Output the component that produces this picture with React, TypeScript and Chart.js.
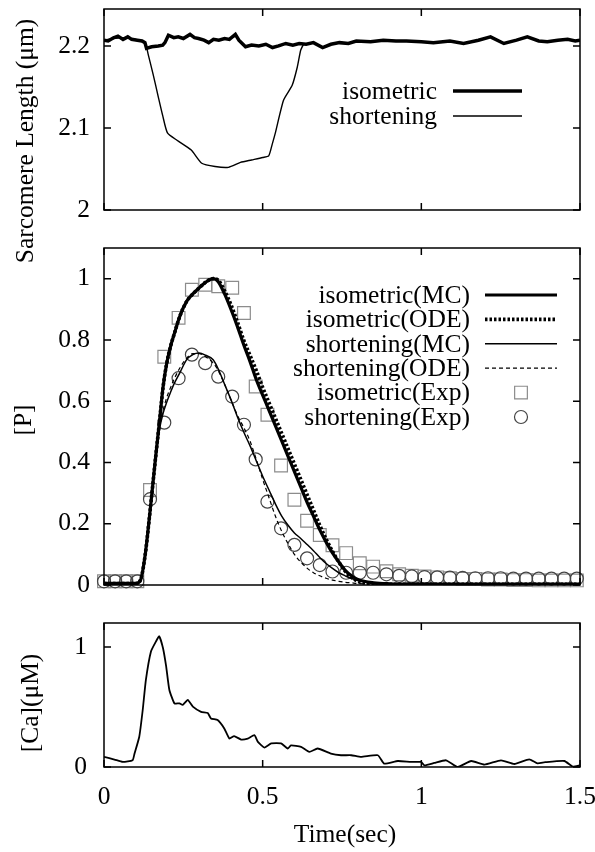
import React, { useEffect, useRef } from "react";
import { Chart, registerables } from "chart.js";
Chart.register(...registerables);

const FONT = "'Liberation Serif', 'Times New Roman', serif";
const FS = 25.5;
const W = 595;
const H = 852;
const PLOT_LEFT = 104;
const PLOT_RIGHT = 580;

// ---------- Panel A: sarcomere length ----------
const isoSLT = [0, 0.013, 0.03, 0.044, 0.06, 0.075, 0.087, 0.105, 0.12, 0.129, 0.134, 0.15, 0.171, 0.185, 0.192, 0.203, 0.22, 0.234, 0.25, 0.271, 0.285, 0.298, 0.315, 0.33, 0.345, 0.362, 0.38, 0.395, 0.414, 0.425, 0.446, 0.465, 0.488, 0.51, 0.531, 0.55, 0.573, 0.595, 0.615, 0.637, 0.66, 0.689, 0.715, 0.742, 0.77, 0.795, 0.84, 0.88, 0.92, 0.953, 1.0, 1.038, 1.09, 1.133, 1.18, 1.218, 1.26, 1.3, 1.334, 1.37, 1.397, 1.43, 1.461, 1.485, 1.5];
const isoSL = [2.207, 2.206, 2.21, 2.212, 2.208, 2.211, 2.208, 2.207, 2.206, 2.204, 2.197, 2.199, 2.2, 2.201, 2.204, 2.213, 2.21, 2.211, 2.209, 2.214, 2.21, 2.209, 2.207, 2.204, 2.208, 2.207, 2.209, 2.208, 2.214, 2.207, 2.199, 2.201, 2.2, 2.202, 2.198, 2.2, 2.203, 2.201, 2.203, 2.202, 2.204, 2.198, 2.202, 2.204, 2.203, 2.206, 2.205, 2.207, 2.206, 2.206, 2.205, 2.204, 2.206, 2.203, 2.207, 2.211, 2.203, 2.207, 2.211, 2.206, 2.205, 2.207, 2.208, 2.206, 2.207];
const shortSLT = [0, 0.05, 0.1, 0.13, 0.139, 0.155, 0.171, 0.185, 0.2, 0.23, 0.275, 0.308, 0.35, 0.392, 0.43, 0.465, 0.5, 0.519, 0.53, 0.54, 0.566, 0.593, 0.609, 0.62, 0.63];
const shortSL = [2.207, 2.21, 2.208, 2.203, 2.19, 2.165, 2.138, 2.115, 2.094, 2.085, 2.073, 2.057, 2.053, 2.052, 2.058, 2.061, 2.064, 2.066, 2.08, 2.094, 2.134, 2.152, 2.174, 2.195, 2.203];

// ---------- Panel B: [P] ----------
const tModel = [0, 0.05, 0.1, 0.115, 0.13, 0.142, 0.153, 0.164, 0.175, 0.186, 0.197, 0.21, 0.22, 0.24, 0.26, 0.28, 0.3, 0.32, 0.344, 0.36, 0.38, 0.4, 0.42, 0.44, 0.46, 0.48, 0.5, 0.52, 0.54, 0.56, 0.58, 0.6, 0.62, 0.64, 0.66, 0.68, 0.7, 0.72, 0.74, 0.76, 0.78, 0.8, 0.85, 0.9, 1.0, 1.2, 1.5];
const isoMC = [0.005, 0.005, 0.005, 0.016, 0.1, 0.21, 0.32, 0.43, 0.535, 0.645, 0.72, 0.78, 0.815, 0.88, 0.925, 0.95, 0.97, 0.988, 1.0, 0.99, 0.95, 0.9, 0.845, 0.785, 0.73, 0.67, 0.62, 0.57, 0.52, 0.47, 0.42, 0.37, 0.32, 0.27, 0.225, 0.18, 0.14, 0.105, 0.075, 0.048, 0.03, 0.018, 0.007, 0.004, 0.003, 0.003, 0.003];
const isoODE = [0.005, 0.005, 0.005, 0.016, 0.1, 0.21, 0.32, 0.43, 0.535, 0.645, 0.72, 0.78, 0.815, 0.88, 0.925, 0.95, 0.97, 0.988, 1.0, 0.995, 0.96, 0.915, 0.86, 0.8, 0.75, 0.7, 0.645, 0.595, 0.545, 0.495, 0.445, 0.395, 0.345, 0.295, 0.245, 0.195, 0.15, 0.11, 0.075, 0.045, 0.025, 0.012, 0.004, 0.002, 0.002, 0.002, 0.002];
const shortMC = [0.005, 0.005, 0.005, 0.016, 0.1, 0.21, 0.32, 0.43, 0.51, 0.56, 0.595, 0.63, 0.655, 0.695, 0.735, 0.752, 0.757, 0.75, 0.735, 0.705, 0.655, 0.605, 0.55, 0.5, 0.455, 0.405, 0.355, 0.31, 0.265, 0.225, 0.195, 0.17, 0.152, 0.132, 0.112, 0.09, 0.07, 0.054, 0.04, 0.03, 0.021, 0.015, 0.007, 0.004, 0.003, 0.003, 0.003];
const shortODE = [0.005, 0.005, 0.005, 0.016, 0.1, 0.21, 0.32, 0.43, 0.52, 0.57, 0.61, 0.645, 0.67, 0.71, 0.74, 0.755, 0.755, 0.745, 0.725, 0.7, 0.655, 0.605, 0.555, 0.515, 0.47, 0.41, 0.345, 0.285, 0.225, 0.175, 0.135, 0.1, 0.075, 0.055, 0.04, 0.03, 0.022, 0.016, 0.012, 0.009, 0.007, 0.005, 0.003, 0.002, 0.002, 0.002, 0.002];
const expT = [0, 0.035, 0.07, 0.105, 0.145, 0.19, 0.235, 0.277, 0.319, 0.36, 0.404, 0.441, 0.478, 0.515, 0.558, 0.6, 0.64, 0.68, 0.72, 0.763, 0.806, 0.848, 0.89, 0.93, 0.97, 1.01, 1.05, 1.09, 1.13, 1.17, 1.21, 1.25, 1.29, 1.33, 1.37, 1.41, 1.45, 1.49];
const isoExp = [0.012, 0.012, 0.012, 0.012, 0.31, 0.745, 0.872, 0.964, 0.98, 0.975, 0.97, 0.888, 0.648, 0.556, 0.39, 0.278, 0.21, 0.163, 0.13, 0.104, 0.071, 0.06, 0.045, 0.035, 0.03, 0.028, 0.025, 0.022, 0.02, 0.02, 0.018, 0.018, 0.016, 0.016, 0.015, 0.015, 0.015, 0.015];
const shortExp = [0.012, 0.012, 0.012, 0.012, 0.28, 0.53, 0.675, 0.752, 0.724, 0.68, 0.615, 0.523, 0.41, 0.272, 0.185, 0.131, 0.087, 0.065, 0.044, 0.04, 0.04, 0.04, 0.035, 0.03, 0.028, 0.026, 0.025, 0.024, 0.023, 0.022, 0.022, 0.022, 0.021, 0.021, 0.021, 0.021, 0.021, 0.021];

// ---------- Panel C: [Ca] ----------
const caT = [0, 0.033, 0.059, 0.09, 0.096, 0.111, 0.122, 0.132, 0.148, 0.164, 0.174, 0.186, 0.196, 0.206, 0.222, 0.238, 0.248, 0.264, 0.28, 0.306, 0.327, 0.337, 0.358, 0.379, 0.395, 0.41, 0.432, 0.453, 0.474, 0.485, 0.506, 0.527, 0.558, 0.579, 0.589, 0.621, 0.647, 0.673, 0.715, 0.747, 0.779, 0.81, 0.863, 0.883, 0.926, 0.968, 0.999, 1.01, 1.041, 1.078, 1.115, 1.157, 1.199, 1.251, 1.293, 1.34, 1.366, 1.39, 1.451, 1.477, 1.5];
const caV = [0.084, 0.062, 0.042, 0.056, 0.11, 0.25, 0.475, 0.726, 0.963, 1.047, 1.089, 0.99, 0.837, 0.642, 0.53, 0.53, 0.517, 0.559, 0.503, 0.46, 0.45, 0.405, 0.391, 0.321, 0.237, 0.257, 0.229, 0.237, 0.265, 0.209, 0.162, 0.196, 0.196, 0.154, 0.18, 0.168, 0.126, 0.154, 0.112, 0.098, 0.098, 0.084, 0.098, 0.028, 0.05, 0.042, 0.042, 0.014, 0.034, 0.056, 0.0, 0.05, 0.02, 0.056, 0.025, 0.064, 0.03, 0.04, 0.05, 0.003, 0.014];

// ---------- labels ----------
const slLegend = ["isometric", "shortening"];
const pLegend = ["isometric(MC)", "isometric(ODE)", "shortening(MC)", "shortening(ODE)", "isometric(Exp)", "shortening(Exp)"];
const caLegend = ["[Ca]"];
const slTitle = "Sarcomere Length (\u03bcm)";
const pTitle = "[P]";
const caTitle = "[Ca](\u03bcM)";
const xTitle = "Time(sec)";

const pts = (xs: number[], ys: number[]) => xs.map((x, i) => ({ x, y: ys[i] }));
const fmt = (v: number) => String(Math.round(v * 10) / 10);

const framePlugin = {
  id: "frame",
  afterDatasetsDraw(chart: any) {
    const { ctx, chartArea: a, scales } = chart;
    ctx.save();
    ctx.strokeStyle = "#000";
    ctx.lineWidth = 1.5;
    ctx.strokeRect(a.left, a.top, a.right - a.left, a.bottom - a.top);
    const len = 7;
    ctx.beginPath();
    for (const t of scales.x.ticks) {
      const px = scales.x.getPixelForValue(t.value);
      ctx.moveTo(px, a.bottom);
      ctx.lineTo(px, a.bottom - len);
      ctx.moveTo(px, a.top);
      ctx.lineTo(px, a.top + len);
    }
    for (const t of scales.y.ticks) {
      const py = scales.y.getPixelForValue(t.value);
      ctx.moveTo(a.left, py);
      ctx.lineTo(a.left + len, py);
      ctx.moveTo(a.right, py);
      ctx.lineTo(a.right - len, py);
    }
    ctx.stroke();
    ctx.restore();
  },
};

const legendPlugin = {
  id: "sideLegend",
  afterDraw(chart: any, _args: any, opts: any) {
    if (!opts || !opts.show) return;
    const ctx = chart.ctx;
    ctx.save();
    ctx.font = `${opts.fontSize}px ${FONT}`;
    ctx.textAlign = "right";
    ctx.textBaseline = "middle";
    chart.data.datasets.forEach((ds: any, i: number) => {
      const y = opts.y0 + i * opts.rowH;
      ctx.fillStyle = "#000";
      ctx.fillText(ds.label, opts.textRight, y + 1);
      if (ds.showLine === false) {
        const cx = (opts.s0 + opts.s1) / 2;
        ctx.strokeStyle = ds.pointBorderColor || ds.borderColor;
        ctx.lineWidth = ds.pointBorderWidth || 1;
        ctx.setLineDash([]);
        ctx.beginPath();
        if (ds.pointStyle === "rect") {
          const s = ds.pointRadius * Math.SQRT1_2;
          ctx.rect(cx - s, y - s, 2 * s, 2 * s);
        } else {
          ctx.arc(cx, y, ds.pointRadius, 0, Math.PI * 2);
        }
        ctx.stroke();
      } else {
        ctx.strokeStyle = ds.borderColor;
        ctx.lineWidth = ds.borderWidth;
        ctx.setLineDash(ds.borderDash || []);
        ctx.beginPath();
        ctx.moveTo(opts.s0, y);
        ctx.lineTo(opts.s1, y);
        ctx.stroke();
      }
    });
    ctx.restore();
  },
};

const textPlugin = {
  id: "texts",
  afterDraw(chart: any, _args: any, opts: any) {
    if (!opts || !opts.items) return;
    const ctx = chart.ctx;
    ctx.save();
    ctx.fillStyle = "#000";
    ctx.textAlign = "center";
    ctx.textBaseline = "middle";
    for (const it of opts.items) {
      ctx.save();
      ctx.font = `${it.size}px ${FONT}`;
      ctx.translate(it.x, it.y);
      if (it.rotate) ctx.rotate(it.rotate);
      ctx.fillText(it.text, 0, 0);
      ctx.restore();
    }
    ctx.restore();
  },
};

function yScale(min: number, max: number, step: number, pad: number) {
  return {
    type: "linear",
    min,
    max,
    afterFit: (s: any) => {
      s.width = PLOT_LEFT;
      s.paddingTop = 0;
      s.paddingBottom = 0;
    },
    grid: { display: false, drawTicks: false },
    border: { display: false },
    ticks: {
      stepSize: step,
      includeBounds: false,
      autoSkip: false,
      color: "#000",
      padding: pad,
      font: { family: FONT, size: FS },
      callback: (v: number) => fmt(v),
    },
  };
}

function xScale(showLabels: boolean, height: number) {
  return {
    type: "linear",
    min: 0,
    max: 1.5,
    afterFit: (s: any) => {
      s.height = height;
      s.paddingLeft = 0;
      s.paddingRight = 0;
    },
    grid: { display: false, drawTicks: false },
    border: { display: false },
    ticks: {
      display: showLabels,
      stepSize: 0.5,
      includeBounds: false,
      autoSkip: false,
      maxRotation: 0,
      color: "#000",
      padding: 15,
      font: { family: FONT, size: FS },
      callback: (v: number) => fmt(v),
    },
  };
}

function baseOptions(top: number, bottom: number, xh: number, showX: boolean, ymin: number, ymax: number, ystep: number, ypad: number, plugins: any) {
  return {
    responsive: false,
    maintainAspectRatio: false,
    animation: false,
    layout: { padding: { left: 0, right: W - PLOT_RIGHT, top, bottom: H - bottom - xh } },
    scales: { x: xScale(showX, xh), y: yScale(ymin, ymax, ystep, ypad) },
    plugins: { legend: { display: false }, tooltip: { enabled: false }, ...plugins },
  };
}

function cfgA(): any {
  return {
    type: "line",
    data: {
      datasets: [
        { label: slLegend[0], data: pts(isoSLT, isoSL), borderColor: "#000", borderWidth: 3.5, pointRadius: 0, tension: 0, order: 0 },
        { label: slLegend[1], data: pts(shortSLT, shortSL), borderColor: "#000", borderWidth: 1.4, pointRadius: 0, tension: 0.2, order: 1 },
      ],
    },
    options: baseOptions(9, 210, 0, false, 2, 2.245, 0.1, 14, {
      sideLegend: { show: true, fontSize: FS, textRight: 437, y0: 91, rowH: 25, s0: 453, s1: 522 },
      texts: { items: [{ text: slTitle, x: 26, y: 141, size: FS, rotate: -Math.PI / 2 }] },
    }),
    plugins: [framePlugin, legendPlugin, textPlugin],
  };
}

function cfgB(): any {
  const line = (label: string, ys: number[], w: number, dash: number[], order: number) => ({
    label,
    data: pts(tModel, ys),
    borderColor: "#000",
    borderWidth: w,
    borderDash: dash,
    pointRadius: 0,
    cubicInterpolationMode: "monotone",
    order,
  });
  return {
    type: "line",
    data: {
      datasets: [
        line(pLegend[0], isoMC, 3.2, [], 0),
        line(pLegend[1], isoODE, 3.6, [2.5, 2], 1),
        line(pLegend[2], shortMC, 1.5, [], 2),
        line(pLegend[3], shortODE, 1.2, [4, 3], 3),
        { label: pLegend[4], data: pts(expT, isoExp), showLine: false, pointStyle: "rect", pointRadius: 9, pointBorderColor: "#8c8c8c", pointBorderWidth: 1.2, pointBackgroundColor: "rgba(0,0,0,0)", borderColor: "#8c8c8c", clip: 10, order: 5 },
        { label: pLegend[5], data: pts(expT, shortExp), showLine: false, pointStyle: "circle", pointRadius: 6.5, pointBorderColor: "#444", pointBorderWidth: 1.2, pointBackgroundColor: "rgba(0,0,0,0)", borderColor: "#444", clip: 10, order: 4 },
      ],
    },
    options: baseOptions(248, 585, 0, false, 0, 1.1, 0.2, 14, {
      sideLegend: { show: true, fontSize: FS, textRight: 470, y0: 295, rowH: 24.4, s0: 485, s1: 557 },
      texts: { items: [{ text: pTitle, x: 24, y: 420, size: FS, rotate: -Math.PI / 2 }] },
    }),
    plugins: [framePlugin, legendPlugin, textPlugin],
  };
}

function cfgC(): any {
  return {
    type: "line",
    data: {
      datasets: [{ label: caLegend[0], data: pts(caT, caV), borderColor: "#000", borderWidth: 1.8, pointRadius: 0, tension: 0.15 }],
    },
    options: baseOptions(623, 767, 45, true, 0, 1.2, 1, 17, {
      sideLegend: { show: false },
      texts: {
        items: [
          { text: caTitle, x: 31, y: 703, size: FS, rotate: -Math.PI / 2 },
          { text: xTitle, x: 345, y: 835, size: FS },
        ],
      },
    }),
    plugins: [framePlugin, legendPlugin, textPlugin],
  };
}

export default function App() {
  const refA = useRef<HTMLCanvasElement>(null);
  const refB = useRef<HTMLCanvasElement>(null);
  const refC = useRef<HTMLCanvasElement>(null);
  useEffect(() => {
    const charts = [new Chart(refA.current!, cfgA()), new Chart(refB.current!, cfgB()), new Chart(refC.current!, cfgC())];
    return () => charts.forEach((c) => c.destroy());
  }, []);
  const cs: React.CSSProperties = { position: "absolute", left: 0, top: 0, width: W, height: H };
  return (
    <div style={{ position: "absolute", left: 0, top: 0, width: W, height: H, background: "#fff" }}>
      <canvas ref={refA} width={W} height={H} style={cs} />
      <canvas ref={refB} width={W} height={H} style={cs} />
      <canvas ref={refC} width={W} height={H} style={cs} />
    </div>
  );
}
